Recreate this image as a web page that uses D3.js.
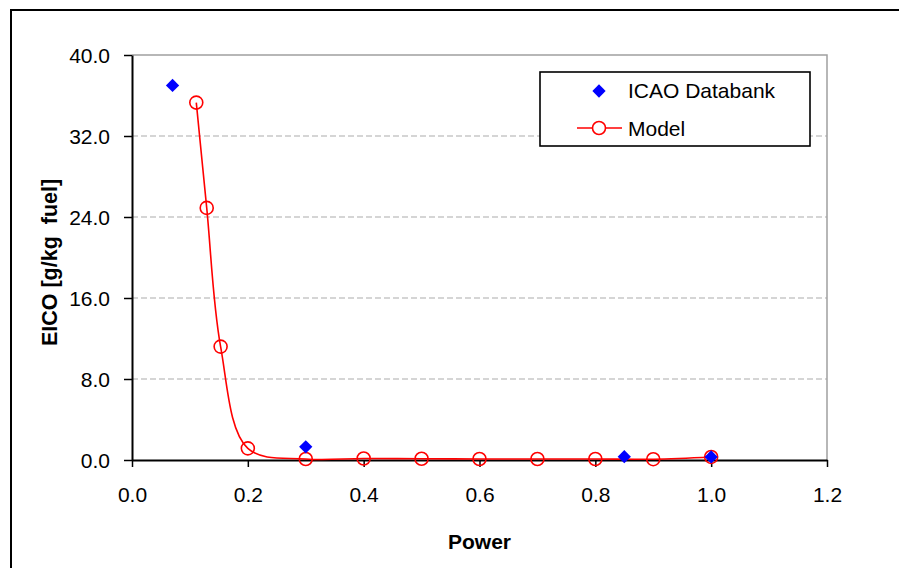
<!DOCTYPE html>
<html>
<head>
<meta charset="utf-8">
<script src="https://cdn.jsdelivr.net/npm/d3@7"></script>
<style>
  html, body { margin: 0; padding: 0; background: #fff; }
  svg { display: block; font-family: "Liberation Sans", Arial, sans-serif; }
</style>
</head>
<body>
<svg id="chart" width="899" height="568"></svg>
<script>
// Measured emission index data (ICAO databank)
const icaoPower = [0.07, 0.30, 0.85, 1.00];
const icaoEICO  = [37.0, 1.30, 0.33, 0.30];

// Model prediction
const modelPower = [0.111, 0.129, 0.153, 0.20, 0.30, 0.40, 0.50, 0.60, 0.70, 0.80, 0.90, 1.00];
const modelEICO  = [35.3, 24.9, 11.2, 1.15, 0.10, 0.15, 0.12, 0.10, 0.10, 0.10, 0.08, 0.30];

const xTicks = [0.0, 0.2, 0.4, 0.6, 0.8, 1.0, 1.2];
const yTicks = [0.0, 8.0, 16.0, 24.0, 32.0, 40.0];

const seriesNames = ["ICAO Databank", "Model"];

const svg = d3.select("#chart");
const plot = { left: 132, right: 827, top: 55, bottom: 460 };

const x = d3.scaleLinear().domain([0, 1.2]).range([plot.left, plot.right]);
const y = d3.scaleLinear().domain([0, 40]).range([plot.bottom, plot.top]);

// Outer chart frame
svg.append("rect")
  .attr("x", 11).attr("y", 10)
  .attr("width", 1000).attr("height", 1000)
  .attr("fill", "none").attr("stroke", "#000").attr("stroke-width", 2);

// Horizontal gridlines (dashed)
svg.append("g").selectAll("line")
  .data(yTicks.filter(v => v > 0 && v < 40))
  .join("line")
  .attr("x1", plot.left).attr("x2", plot.right)
  .attr("y1", d => y(d)).attr("y2", d => y(d))
  .attr("stroke", "#ababab").attr("stroke-width", 1.2)
  .attr("stroke-dasharray", "6,3");

// Plot-area border (top and right)
svg.append("path")
  .attr("d", `M${plot.left},${y(40)}H${plot.right}V${plot.bottom}`)
  .attr("fill", "none").attr("stroke", "#a0a0a0").attr("stroke-width", 1.5);

// Axes
const xAxis = d3.axisBottom(x).tickValues(xTicks).tickFormat(d3.format(".1f"))
  .tickSizeInner(7).tickSizeOuter(0).tickPadding(20);
const yAxis = d3.axisLeft(y).tickValues(yTicks).tickFormat(d3.format(".1f"))
  .tickSizeInner(8).tickSizeOuter(0).tickPadding(14);

const gx = svg.append("g").attr("transform", `translate(0,${plot.bottom})`).call(xAxis);
const gy = svg.append("g").attr("transform", `translate(${plot.left},0)`).call(yAxis);

[gx, gy].forEach(g => {
  g.select(".domain").attr("stroke", "#000").attr("stroke-width", 2);
  g.selectAll(".tick line").attr("stroke", "#000").attr("stroke-width", 1.5);
  g.selectAll(".tick text")
    .attr("fill", "#000")
    .style("font-size", "21px")
    .style("font-family", "'Liberation Sans', Arial, sans-serif");
});
gy.selectAll(".tick text").attr("dy", "0.36em");

// Axis titles
svg.append("text")
  .attr("x", (plot.left + plot.right) / 2).attr("y", 549)
  .attr("text-anchor", "middle")
  .style("font-size", "21px").style("font-weight", "bold")
  .text("Power");

svg.append("text")
  .attr("transform", `translate(57,${(plot.top + plot.bottom) / 2 + 5}) rotate(-90)`)
  .attr("text-anchor", "middle")
  .style("font-size", "21.5px").style("font-weight", "bold")
  .style("white-space", "pre")
  .text("EICO [g/kg  fuel]");

// Model curve (smoothed)
const modelData = modelPower.map((p, i) => ({ p, v: modelEICO[i] }));
const line = d3.line().x(d => x(d.p)).y(d => y(d.v)).curve(d3.curveCatmullRom.alpha(0.5));

svg.append("path")
  .datum(modelData)
  .attr("d", line)
  .attr("fill", "none").attr("stroke", "#ff0000").attr("stroke-width", 1.6);

svg.append("g").selectAll("circle")
  .data(modelData)
  .join("circle")
  .attr("cx", d => x(d.p)).attr("cy", d => y(d.v)).attr("r", 6.5)
  .attr("fill", "none").attr("stroke", "#ff0000").attr("stroke-width", 1.6);

// ICAO databank diamonds
const icaoData = icaoPower.map((p, i) => ({ p, v: icaoEICO[i] }));
const diamond = d3.symbol().type(d3.symbolSquare).size(88);
svg.append("g").selectAll("path")
  .data(icaoData)
  .join("path")
  .attr("d", diamond)
  .attr("transform", d => `translate(${x(d.p)},${y(d.v)}) rotate(45)`)
  .attr("fill", "#0000ff");

// Legend
const legend = svg.append("g");
legend.append("rect")
  .attr("x", 540).attr("y", 72).attr("width", 270).attr("height", 74)
  .attr("fill", "#fff").attr("stroke", "#000").attr("stroke-width", 1.6);

legend.append("path")
  .attr("d", diamond)
  .attr("transform", "translate(599,91) rotate(45)")
  .attr("fill", "#0000ff");
legend.append("text")
  .attr("x", 628).attr("y", 98)
  .style("font-size", "21px")
  .text(seriesNames[0]);

legend.append("line")
  .attr("x1", 577).attr("x2", 622).attr("y1", 128).attr("y2", 128)
  .attr("stroke", "#ff0000").attr("stroke-width", 1.6);
legend.append("circle")
  .attr("cx", 599).attr("cy", 128).attr("r", 6.5)
  .attr("fill", "#fff").attr("stroke", "#ff0000").attr("stroke-width", 1.6);
legend.append("text")
  .attr("x", 628).attr("y", 136)
  .style("font-size", "21px")
  .text(seriesNames[1]);
</script>
</body>
</html>
